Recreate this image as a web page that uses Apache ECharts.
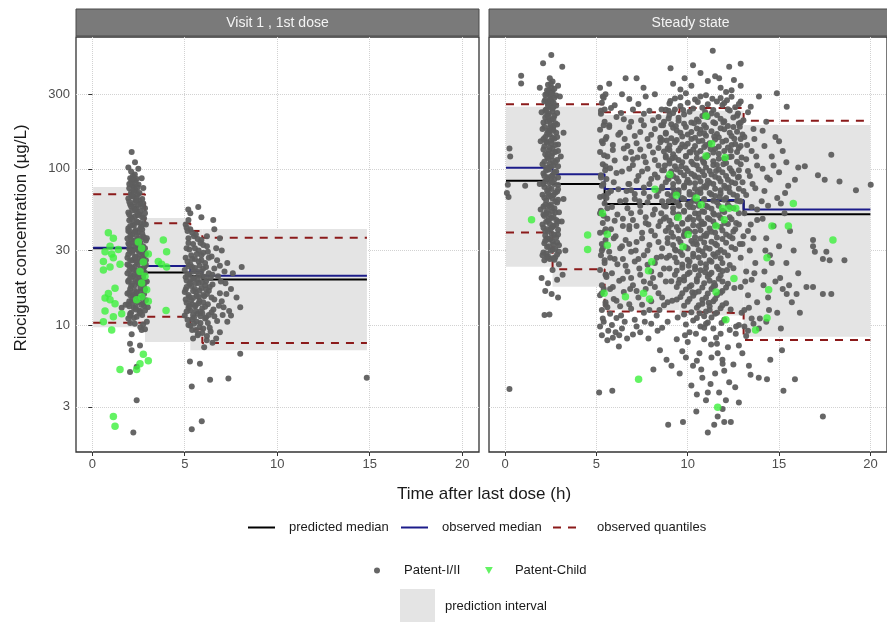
<!DOCTYPE html>
<html>
<head>
<meta charset="utf-8">
<script src="https://cdn.jsdelivr.net/npm/echarts@6/dist/echarts.min.js"></script>
<style>
  html, body { margin: 0; padding: 0; background: #ffffff; }
  #chart { width: 887px; height: 622px; }
</style>
</head>
<body>
<div id="chart"></div>
<script>
// ---------------- data ----------------
const panelTitles = ['Visit 1 , 1st dose', 'Steady state'];
const xTicks = [0, 5, 10, 15, 20];
const yTicks = [3, 10, 30, 100, 300];

// Visit 1, first dose: time bins (h) and binned summaries (µg/L)
const binEdgesV1 = [0.05, 2.85, 5.3, 5.95, 14.85];
const predMedianV1 = [31.0, 21.7, 20.6, 19.6];
const obsMedianV1 = [31.3, 23.9, 22.0, 20.7];
const obsUpperV1 = [68.7, 44.8, 40.0, 36.2];
const obsLowerV1 = [10.35, 11.3, 9.4, 7.67];
const piLowV1 = [9.7, 7.8, 6.9, 6.9];
const piHighV1 = [76.5, 48.4, 41.2, 41.2];

// Steady state: time bins (h) and binned summaries (µg/L)
const binEdgesSS = [0.05, 2.6, 5.45, 9.55, 13.06, 20.0];
const predMedianSS = [83.9, 80.0, 59.5, 62.5, 51.2];
const obsMedianSS = [101.6, 92.2, 74.3, 63.1, 55.0];
const obsUpperSS = [259, 259, 230, 245, 203];
const obsLowerSS = [39.2, 22.8, 12.2, 11.9, 8.02];
const piLowSS = [23.6, 17.6, 12.5, 11.5, 8.41];
const piHighSS = [250, 250, 221, 235, 191];

// Observations [time after last dose (h), concentration (µg/L)]
const adultsV1 = [
  [1.95,11],[2.4,11.3],[2.7,11.6],[2.1,12],[2.55,12.4],[2.25,12.9],[2.8,13.2],[1.95,13.6],[2.45,14],[2.15,14.5],
  [2.7,15],[2.35,15.4],[1.9,15.9],[2.6,16.4],[2.05,17],[2.8,17.5],[2.3,18],[2.5,18.6],[1.95,19.2],[2.7,19.8],
  [2.2,20.4],[2.45,21],[2.85,21.6],[2.0,22.3],[2.6,23],[2.3,23.7],[1.9,24.4],[2.75,25.1],[2.15,25.9],[2.5,26.7],
  [2.35,27.5],[1.95,28.3],[2.65,29.2],[2.2,30],[2.85,31],[2.45,31.8],[2.0,32.8],[2.6,33.8],[2.3,34.8],[1.9,35.8],
  [2.75,36.9],[2.15,38],[2.5,39.2],[2.35,40.4],[1.95,41.6],[2.65,42.8],[2.2,44.1],[2.45,45.4],[2.0,46.8],[2.8,48.2],
  [2.3,49.6],[2.55,51],[1.95,52.6],[2.15,54.2],[2.4,55.8],[2.7,57.5],[2.05,59.2],[2.3,61],[2.55,62.8],[1.95,64.7],
  [2.2,66.6],[2.45,68.6],[2.1,70.7],[2.35,72.8],[2.0,75],[2.25,77.2],[2.5,79.5],[2.1,82],[2.3,84.5],[2.05,87],[2.2,90],
  [2.25,11.1],[2.05,11.8],[2.6,12.2],[2.35,13],[2.75,13.8],[2.0,14.2],[2.55,14.8],[2.2,15.6],[2.4,16.2],[2.85,16.9],
  [2.1,17.8],[2.65,18.3],[1.95,18.9],[2.35,19.5],[2.55,20.1],[2.1,20.8],[2.7,21.4],[2.4,22.1],[2.2,22.8],[2.8,23.4],
  [2.0,24],[2.45,24.6],[2.65,25.5],[2.25,26.3],[1.9,27],[2.8,27.8],[2.55,28.6],[2.05,29.6],[2.4,30.5],[2.7,31.4],
  [2.25,32.3],[1.95,33.3],[2.55,34.3],[2.1,35.3],[2.8,36.3],[2.4,37.4],[2.05,39.6],[2.7,40.9],[2.25,43.4],[2.6,45],
  [2.1,48.8],[2.4,53.4],[2.25,57],[2.6,60],[2.4,65],[2.1,68],[2.3,74],[2.15,79],[2.4,86],
  [2.05,11.5],[2.55,11.9],[2.85,12.4],[2.35,12.6],[2.0,13.2],[2.65,13.5],[2.2,13.9],[2.9,14.4],[2.45,15],[2.05,15.5],
  [2.8,15.8],[2.3,16.6],[2.0,16.2],[2.6,17.3],[2.15,18.5],[2.85,18.8],[2.45,19],[2.05,20],[2.75,20.3],[2.3,21.2],
  [1.9,21.5],[2.55,22],[2.15,23.3],[2.9,24.2],[2.4,25.3],[2.05,26],[2.7,26.8],[2.3,27.2],[2.9,28.5],[2.15,29],
  [2.5,30],[2.0,30.8],[2.75,32],[2.35,33],[2.2,34],[2.9,34.8],[2.5,35.8],[2.05,37],[2.7,38.5],[2.3,39.5],
  [1.95,40],[2.6,41.5],[2.05,43],[2.8,44.5],[2.4,46],[2.15,47.5],[2.7,49],[2.45,50.5],[2.0,51],[2.6,53.5],
  [2.3,55],[2.85,56],[2.1,57.5],[2.5,59],[2.0,61.5],[2.35,63],[2.7,64],[2.15,67],[2.55,70],[2.25,71],
  [2.45,76],[2.0,80],[2.35,81],[2.15,86],[2.3,92],[2.1,96],
  [1.95,102],[2.31,110],[2.13,128],[2.49,100],[2.67,87],[2.76,75.5],[2.76,60],[2.85,52],[2.9,44],[2.95,36],
  [2.9,26],[2.95,19],[3.0,13],[2.95,10.5],[2.85,9.4],[2.6,9.7],[2.3,10.2],[2.05,10.3],[2.13,8.75],[2.67,9.3],
  [2.04,7.6],[2.13,6.9],[2.58,7.4],[2.04,5.0],[2.4,5.4],[2.4,3.3],[2.22,2.05],[1.59,12.9],[2.75,10.1],[1.8,13.5],
  [5.05,44],[5.3,41],[5.6,38],[5.2,36],[5.9,35],[5.45,33],[6.2,32],[5.1,31],[5.75,30],[6.0,29],
  [5.35,28],[6.45,27.5],[5.55,26.5],[5.15,25.5],[6.1,25],[5.8,24],[5.4,23.5],[6.6,23],[5.0,22.5],[5.65,22],
  [6.3,21.5],[5.25,21],[5.95,20.5],[6.8,20.5],[5.5,20],[5.1,19.3],[6.15,19],[5.75,18.6],[6.5,18.2],[5.35,17.8],
  [5.9,17.3],[5.05,16.9],[6.3,16.6],[5.6,16.2],[6.9,16],[5.2,15.6],[6.05,15.3],[5.45,14.9],[6.6,14.6],[5.8,14.3],
  [5.1,13.9],[6.25,13.6],[5.55,13.2],[7.1,13],[5.95,12.8],[5.3,12.4],[6.45,12.1],[5.7,11.8],[5.0,11.5],[6.15,11.2],
  [5.4,10.9],[6.75,10.6],[5.85,10.3],[5.2,10],[6.35,9.6],[5.6,9.3],[5.95,8.9],[6.2,8.5],[5.45,8.2],[6.5,7.7],[6.05,7.2],
  [5.15,40],[5.5,37],[5.85,33.5],[5.25,30.5],[5.65,28.5],[6.3,27],[5.9,26],[5.3,24.5],[6.0,23],[5.45,22],
  [5.15,21],[6.4,20],[5.7,19.6],[5.3,18.8],[6.1,18],[5.55,17],[5.0,16.3],[6.2,15.8],[5.75,15.1],[5.35,14.4],
  [6.0,14],[5.6,13.4],[5.2,12.9],[6.55,12.6],[5.85,12.2],[5.45,11.6],[6.1,11],[5.65,10.5],[5.3,9.9],[6.4,9.1],
  [5.1,42],[5.4,39],[5.7,35.5],[6.0,32.5],[5.2,33.5],[5.55,31],[5.9,28],[6.25,29.5],[5.05,27],[5.4,26.5],
  [5.75,25.5],[6.15,23.5],[5.2,23.8],[5.55,23.2],[5.9,22],[6.5,21],[5.05,20.2],[5.4,19.7],[5.75,20.8],[6.1,20.4],
  [5.25,18.3],[5.6,18.5],[5.95,18.8],[6.35,17.5],[5.1,17.5],[5.45,16.5],[5.8,16.6],[6.15,16.9],[5.25,15.1],[5.65,15.4],
  [6.0,15.6],[6.45,15],[5.05,14.6],[5.4,13.6],[5.75,13.8],[6.1,13.1],[5.25,13.3],[5.6,12.3],[5.95,11.9],[6.3,11.6],
  [5.1,12.2],[5.5,11.2],[5.85,11.4],[6.25,10.3],[5.15,10.8],[5.5,10.2],[5.8,9.7],[5.4,9.3],[6.0,9.5],[5.7,8.6],
  [6.75,26],[6.95,19],[7.15,22],[6.85,13.3],[7.25,15.8],[6.7,31],[6.9,36],[7.05,11.6],
  [5.19,55],[5.73,57],[6.54,47],[5.3,52],[5.9,49],[5.2,47],[6.6,41],[6.2,37],[7.0,30],[7.3,25],
  [6.9,24],[7.6,21.5],[8.08,23.5],[7.2,18.5],[7.5,17],[7.8,15],[7.0,14.2],[7.4,12.3],[8.0,13],[7.3,10.5],
  [6.9,9],[6.7,8.2],[8.0,6.55],[6.6,11.4],[7.5,11.5],[5.73,8.8],[6.19,8.0],
  [5.28,5.85],[5.82,5.65],[5.38,4.05],[6.37,4.47],[7.36,4.55],[5.38,2.15],[5.92,2.42],[14.84,4.6]
];

const childrenV1 = [
  [0.87,39],[1.14,36],[0.96,32],[0.69,29.5],[1.05,28.5],[1.41,30.5],[0.6,25.5],[1.14,27],[1.5,24.5],[0.96,23.5],
  [0.6,22.5],[1.23,17.2],[0.87,15.9],[0.69,14.9],[0.96,14.5],[1.23,13.7],[0.69,12.3],[1.14,11.3],[1.59,11.8],[0.6,10.5],
  [1.05,9.3],[1.5,5.2],[1.14,2.6],[1.23,2.25],
  [2.49,34],[2.67,31],[3.03,28.5],[2.76,25.3],[2.58,22],[2.85,20.5],[2.67,18.6],[2.94,16.8],[2.67,15.2],[3.03,14.2],
  [2.4,14.5],[2.76,6.5],[3.03,5.9],[2.58,5.65],[2.4,5.2],
  [3.84,35],[4.02,29.5],[3.57,25.5],[3.75,24.5],[4.02,23.5],[3.99,12.4]
];

const adultsSS = [
  [0.15,79],[0.1,70],[0.19,66],[0.24,135],[0.28,120],[0.24,3.9],[0.88,395],[0.88,352],[1.1,78],
  [2.08,474],[2.53,535],[3.13,451],
  [2.15,26],[2.6,26.8],[2.35,27.6],[2.85,28.3],[2.1,29.1],[2.5,29.9],[2.75,30.7],[2.3,31.6],[2.95,32.4],[2.15,33.4],
  [2.6,34.3],[2.4,35.3],[2.8,36.4],[2.2,37.4],[2.55,38.5],[2.35,39.7],[2.9,40.8],[2.1,42],[2.65,43.2],[2.45,44.5],
  [2.25,45.8],[2.8,47.1],[2.55,48.5],[2.15,49.9],[2.4,51.3],[2.95,52.8],[2.3,54.3],[2.7,55.9],[2.1,57.5],[2.5,59.2],
  [2.85,60.9],[2.25,62.7],[2.6,64.5],[2.4,66.4],[2.05,68.3],[2.75,70.3],[2.3,72.3],[2.55,74.4],[2.15,76.6],[2.9,78.8],
  [2.45,81.1],[2.2,83.4],[2.7,85.8],[2.35,88.3],[2.6,90.9],[2.1,93.5],[2.8,96.2],[2.4,99],[2.25,102],[2.65,105],
  [2.45,108],[2.15,111],[2.85,114],[2.35,117],[2.55,121],[2.2,124],[2.75,128],[2.4,131],[2.6,135],[2.15,139],
  [2.9,143],[2.3,147],[2.5,151],[2.7,156],[2.2,160],[2.45,165],[2.8,170],[2.35,175],[2.6,180],[2.15,185],
  [2.5,190],[2.75,196],[2.3,201],[2.55,207],[2.2,213],[2.7,219],[2.4,226],[2.6,233],[2.25,240],[2.5,247],
  [2.8,254],[2.35,261],[2.55,269],[2.2,277],[2.7,285],[2.45,293],[2.3,302],[2.6,311],[2.4,320],[2.55,330],
  [2.35,345],[2.6,362],[2.45,380],
  [2.45,26.5],[2.75,27.2],[2.25,28.7],[2.6,30.3],[2.4,32],[2.85,33.8],[2.3,35.8],[2.7,37.9],[2.2,40.2],[2.5,41.3],
  [2.8,43.8],[2.35,46.5],[2.65,49.2],[2.25,52],[2.6,53.6],[2.4,58.3],[2.75,61.9],[2.15,65.3],[2.5,67.4],[2.85,71.5],
  [2.4,75.5],[2.7,80],[2.3,86.8],[2.55,89.6],[2.25,97.5],[2.5,103],[2.75,110],[2.3,119],[2.6,126],[2.45,137],
  [2.25,149],[2.6,158],[2.4,172],[2.65,187],[2.45,204],[2.3,222],[2.65,250],[2.45,272],
  [2.7,26.2],[2.3,27.1],[2.05,28],[2.95,29.5],[2.65,32.8],[2.2,34.7],[2.5,36],[2.9,38],[2.3,41],[2.6,42.5],
  [2.05,44],[2.9,46],[2.4,48],[2.1,51],[2.75,52.5],[2.55,56.5],[2.2,59],[2.9,63.5],[2.65,68],[2.35,70],
  [2.9,74],[2.1,80],[2.55,83],[2.9,88],[2.15,90],[2.7,95],[2.35,100],[2.9,104],[2.05,107],[2.6,113],
  [2.35,125],[2.9,130],[2.1,133],[2.75,142],[2.55,146],[2.1,155],[2.85,160],[2.3,168],[2.65,176],[2.05,180],
  [2.45,184],[2.85,192],[2.1,198],[2.65,210],[2.35,217],[2.85,228],[2.2,236],[2.6,243],[2.35,253],[2.65,265],
  [2.15,270],[2.5,280],[2.8,295],[2.2,298],[2.55,305],[2.3,318],[2.7,325],[2.5,350],
  [2.0,20],[2.35,18.5],[2.6,22.5],[2.85,19.5],[2.2,16.5],[2.55,15.8],[2.9,15],[3.15,21],[2.95,24.5],[2.16,11.6],
  [2.43,11.7],[3.3,30],[3.1,46],[3.2,64],[1.95,55],[1.9,80],[3.05,120],[3.2,170],[1.95,150],[2.0,230],
  [3.0,290],[2.9,340],[1.9,330],
  [5.2,330],[5.5,300],[5.3,265],[5.8,245],[5.25,225],[6.1,215],[5.45,200],[5.7,190],[5.2,178],[6.3,170],
  [5.55,160],[5.3,150],[5.9,142],[6.5,135],[5.2,128],[5.6,120],[6.0,113],[5.35,107],[5.75,101],[6.4,96],
  [5.25,91],[5.55,86],[5.95,82],[5.3,78],[6.2,74],[5.65,70],[5.2,66],[6.6,63],[5.45,60],[5.85,57],
  [5.25,54],[6.15,51],[5.6,48],[5.35,45],[6.45,43],[5.8,41],[5.2,39],[6.05,37],[5.5,35],[5.3,33],
  [6.3,31],[5.7,29.5],[5.25,28],[6.0,26.5],[5.45,25],[6.6,24],[5.2,22.5],[5.85,21.5],[5.55,20.3],[6.25,19.2],
  [5.3,18],[5.75,17],[6.5,16.3],[5.2,15.5],[5.95,14.7],[5.5,14],[6.3,13.2],[5.3,12.5],[5.75,11.8],[6.1,11.1],
  [5.4,10.5],[5.2,9.8],[6.4,9.5],[5.65,9.2],[5.3,8.6],[5.9,8.3],
  [5.4,285],[6.0,255],[5.25,235],[6.5,208],[5.7,185],[6.2,165],[5.35,146],[5.9,132],[6.6,117],[5.5,104],
  [6.1,94],[5.25,88],[6.75,80],[5.8,72],[5.4,67],[6.3,62],[5.6,56],[5.2,52],[6.0,46.5],[6.8,43],
  [5.45,39.5],[5.95,36],[6.4,32],[5.3,30],[5.75,27],[6.15,24.5],[5.5,21],[6.45,19.8],[5.9,17.5],[5.3,16],
  [6.1,14.3],[5.6,13],[6.35,11.5],[5.85,10],[6.05,9],
  [5.35,290],[5.45,240],[5.4,190],[5.5,155],[5.42,122],[5.48,98],[5.38,80],[5.55,65],[5.4,50],[5.5,41],
  [5.35,31],[5.45,26],[5.52,21],[5.4,17],[5.5,13.5],[5.35,11],
  [6.8,280],[7.3,260],[7.9,235],[8.4,215],[6.9,200],[7.6,190],[8.2,180],[8.8,170],[7.1,162],[7.8,155],
  [8.5,148],[6.7,140],[7.4,133],[8.1,127],[8.8,121],[7.0,115],[7.7,110],[8.4,105],[6.8,100],[7.5,96],
  [8.2,92],[8.9,88],[7.2,84],[7.9,80],[8.6,77],[6.9,73],[7.6,70],[8.3,67],[7.1,64],[7.8,61],
  [8.7,58],[6.7,56],[7.4,53],[8.1,51],[8.8,49],[7.0,47],[7.7,45],[8.4,43],[6.8,41],[7.5,39],
  [8.2,37.5],[8.9,36],[7.2,34],[7.9,32.5],[8.6,31],[6.9,29.5],[7.6,28],[8.3,27],[7.1,25.5],[7.8,24.3],
  [8.7,23],[6.7,22],[7.4,21],[8.1,20],[8.8,19],[7.0,18],[7.7,17],[8.4,16],[7.3,15],[8.0,14.2],
  [8.7,13.4],[6.9,12.7],[7.6,12],[8.3,11.5],[7.1,10.8],[8.0,10.2],[8.6,9.6],[7.4,9],[6.8,13.6],[7.2,9.8],
  [7.0,240],[7.6,225],[8.1,205],[6.8,185],[7.4,172],[8.0,165],[8.5,158],[7.2,146],[7.9,140],[6.9,128],
  [8.4,136],[7.6,120],[8.2,114],[7.0,106],[7.8,100],[8.6,98],[7.3,90],[8.0,86],[6.8,80],[7.6,76],
  [8.4,72],[7.1,69],[7.9,66],[8.6,62],[7.4,58],[8.2,55],[6.9,52],[7.7,49],[8.5,46],[7.2,43],
  [8.0,40],[7.5,36],[8.4,34],[6.8,33],[7.8,30],[7.3,26.5],[8.2,25],[6.9,20],[7.6,19],[8.5,21],
  [7.2,16.5],[8.2,17.5],[7.9,12.5],[8.6,15],[7.5,13.5],
  [6.35,228],[7.45,205],[8.55,190],[6.55,155],[7.25,118],[8.35,88],[6.65,72],[7.35,62],[8.55,52],[6.45,48],
  [7.85,44],[6.6,35],[7.15,30],[8.55,27.5],[6.45,26.5],[7.35,23],[8.0,22],[6.85,17],[7.95,18.5],[8.45,12.5],
  [6.55,10.5],[7.65,10.5],[8.35,9.2],[7.0,8.7],[6.25,8.6],[8.9,10.5],[8.9,14],[8.85,27],[8.95,62],[8.75,105],
  [8.9,135],[8.65,190],[8.95,235],[7.7,290],[6.4,300],[5.7,350],[6.6,380],[8.2,300],[7.2,380],
  [9.9,305],[11.0,296],[12.1,310],[10.4,278],[11.6,270],[9.3,282],[9.6,252],[10.8,246],[11.9,256],[12.6,248],
  [10.1,232],[11.3,226],[12.3,236],[9.2,228],[9.5,212],[10.5,207],[11.1,215],[11.8,209],[12.5,213],
  [9.8,194],[10.9,190],[11.5,196],[12.2,188],[9.1,193],
  [9.4,176],[10.2,172],[10.7,178],[11.3,174],[12.0,179],[12.7,173],
  [9.7,161],[10.4,158],[11.0,163],[11.7,159],[12.4,162],[9.1,157],
  [9.3,148],[10.0,145],[10.6,150],[11.2,146],[11.9,149],[12.6,144],
  [9.6,136],[10.3,133],[10.9,138],[11.5,134],[12.2,137],[9.0,132],[12.8,136],
  [9.2,124],[9.9,121],[10.5,126],[11.1,122],[11.7,125],[12.4,120],
  [9.5,114],[10.2,111],[10.8,115],[11.4,112],[12.0,116],[12.7,111],[9.0,113],
  [9.3,104],[9.9,101],[10.5,105],[11.0,102],[11.6,106],[12.3,101],
  [9.6,95],[10.2,93],[10.8,96],[11.3,92],[11.9,95],[12.5,93],[9.1,96],
  [9.4,87],[10.0,85],[10.6,88],[11.1,84],[11.7,87],[12.2,85],
  [9.2,80],[9.8,78],[10.4,81],[10.9,77],[11.4,80],[12.0,78],[12.6,81],
  [9.5,73],[10.1,71],[10.7,74],[11.2,70],[11.8,73],[12.3,71],
  [9.1,67],[9.7,65],[10.3,68],[10.9,64],[11.5,67],[12.1,65],[12.7,67],
  [9.4,61],[10.0,59],[10.5,62],[11.0,58],[11.6,61],[12.2,59],
  [9.2,56],[9.8,54],[10.3,56.5],[10.8,53.5],[11.3,55.5],[11.9,54],[12.5,56],
  [9.5,51],[10.1,49],[10.6,51.5],[11.1,48.5],[11.7,50.5],[12.3,49],
  [9.0,46.5],[9.7,45],[10.3,47],[10.9,44.5],[11.4,46],[12.0,45],
  [9.4,42.5],[10.0,41],[10.6,43],[11.2,41.5],[11.8,42.5],[12.6,41],
  [9.1,39],[9.8,38],[10.4,39.5],[10.9,37.5],[11.5,39],[12.1,38],
  [9.5,35.5],[10.2,34.5],[10.7,35.8],[11.3,34.2],[11.9,35.5],
  [9.2,32.5],[9.9,31.5],[10.5,32.8],[11.0,31.2],[11.6,32.4],[12.4,31.5],
  [9.6,29.5],[10.3,28.6],[10.8,29.6],[11.4,28.4],[12.0,29.3],
  [9.3,27],[10.0,26.2],[10.6,27.1],[11.2,26],[11.8,26.8],
  [9.7,24.4],[10.4,23.7],[11.0,24.5],[11.6,23.6],[12.3,24.2],
  [9.4,22.3],[10.1,21.7],[10.7,22.4],[11.3,21.6],[11.9,22.2],
  [9.8,20.3],[10.5,19.7],[11.1,20.4],[11.7,19.8],
  [9.5,18.6],[10.2,18],[10.9,18.5],[11.5,17.9],[12.2,18.4],
  [9.9,16.9],[10.6,16.4],[11.3,17],[11.9,16.5],
  [10.3,15.4],[11.0,15],[11.6,15.5],[9.6,15.1],
  [10.0,14.1],[10.8,13.7],[11.4,14.2],[12.1,13.8],
  [10.5,12.9],[11.2,12.5],[11.8,12.8],[9.8,11.7],[10.9,11.4],[11.5,11.8],
  [10.3,10.7],[11.1,10.4],[12.0,10.8],[10.7,9.8],[11.4,9.5],[10.1,9],[11.8,8.8],
  [9.6,287],[10.7,290],[11.8,284],[12.4,289],
  [9.0,262],[10.0,265],[11.1,259],[12.0,264],[12.8,260],
  [9.3,240],[10.3,243],[11.4,238],[12.2,241],[8.8,239],
  [9.0,220],[9.8,223],[10.8,218],[11.6,221],[12.7,219],
  [8.7,200],[9.5,203],[10.2,198],[10.6,201],[11.4,199],[12.0,202],[12.9,198],
  [9.2,183],[9.9,185],[10.5,181],[11.0,184],[11.8,182],[12.5,185],
  [8.8,168],[9.6,170],[10.0,166],[10.9,169],[11.6,167],[12.3,170],[13.0,166],
  [9.4,153],[10.2,155],[10.8,151],[11.5,154],[12.1,152],[12.9,155],[8.6,153],
  [9.0,141],[9.7,143],[10.4,140],[11.0,142],[11.7,139],[12.4,142],
  [8.7,129],[9.5,131],[10.1,128],[10.7,130],[11.4,127],[12.0,130],[12.7,128],
  [9.3,118],[9.9,120],[10.5,117],[11.0,119],[11.7,116],[12.3,119],[8.8,118],
  [9.0,108],[9.7,110],[10.3,107],[10.9,109],[11.4,106],[12.1,109],[12.9,107],
  [8.7,98],[9.4,99],[10.0,97],[10.6,99],[11.2,97],[11.7,99],[12.4,97],
  [9.2,90],[9.8,91],[10.4,89],[10.9,91],[11.5,89],[12.1,90],[12.8,89],
  [8.8,82],[9.5,83],[10.1,81.5],[10.7,83],[11.2,81.5],[11.8,83],[12.4,82],
  [9.2,75],[9.8,76],[10.4,74.5],[11.0,76],[11.5,74.5],[12.1,75.5],[12.8,74.5],[8.6,75],
  [8.9,69],[9.5,70],[10.1,68.5],[10.7,70],[11.3,68.5],[11.8,69.5],[12.5,68.5],
  [9.2,63],[9.8,64],[10.3,62.5],[10.9,63.5],[11.4,62.5],[12.0,63.5],[12.7,62.5],
  [8.8,57.5],[9.5,58.3],[10.1,57],[10.6,58],[11.1,57],[11.7,58],[12.3,57],
  [9.2,52.5],[9.8,53.2],[10.4,52],[10.9,53],[11.4,52],[12.0,53],[12.8,52],
  [8.7,48],[9.4,48.6],[10.0,47.6],[10.6,48.5],[11.2,47.5],[11.8,48.4],[12.4,47.6],
  [9.1,44],[9.7,44.5],[10.3,43.6],[10.8,44.4],[11.5,43.6],[12.2,44.3],
  [8.8,40],[9.5,40.5],[10.1,39.7],[10.7,40.4],[11.3,39.6],[11.9,40.3],[12.5,39.7],
  [9.2,36.8],[9.8,37.2],[10.4,36.5],[11.0,37.1],[11.6,36.4],[12.3,37],
  [8.9,33.5],[9.6,33.9],[10.3,33.2],[10.9,33.8],[11.5,33.2],[12.1,33.7],
  [9.3,30.5],[10.0,30.9],[10.6,30.2],[11.2,30.8],[11.8,30.2],[12.6,30.7],
  [9.0,27.8],[9.7,28.1],[10.3,27.5],[10.9,28],[11.5,27.5],[12.2,27.9],
  [9.4,25.2],[10.1,25.5],[10.7,25],[11.3,25.4],[11.9,25],
  [9.0,23],[9.7,23.3],[10.4,22.8],[11.0,23.2],[11.7,22.8],[12.5,23.1],
  [9.3,21],[10.0,21.2],[10.6,20.8],[11.2,21.1],[11.8,20.8],
  [9.1,19.1],[9.8,19.3],[10.5,19],[11.2,19.2],[11.9,19],
  [9.4,17.5],[10.1,17.6],[10.8,17.4],[11.4,17.6],[12.1,17.4],
  [9.7,16],[10.4,16.1],[11.1,15.9],[11.8,16.1],
  [9.4,14.6],[10.1,14.7],[10.8,14.5],[11.5,14.7],
  [9.8,13.3],[10.6,13.4],[11.2,13.2],[11.9,13.4],
  [10.2,12.1],[11.0,12.2],[11.6,12],[10.5,11.1],[11.3,11.2],[9.9,10.1],[11.0,10.2],
  [9.05,272],[10.55,268],[11.35,281],[12.15,275],[9.75,238],[10.95,231],[12.75,226],[8.95,210],[10.35,196],[11.95,198],
  [12.85,186],[9.35,188],[10.65,168],[11.45,161],[12.55,156],[8.85,152],[9.85,139],[11.25,134],[12.35,131],[10.15,127],
  [9.15,117],[10.85,111],[11.95,107],[12.95,118],[9.65,104],[11.55,97],[10.35,91],[12.75,88],[8.95,86],[9.95,82],
  [11.05,79],[12.25,76],[10.55,71],[9.25,70],[11.75,66],[12.85,62],[10.15,60],[9.55,58],[11.45,51],[10.75,46],
  [12.65,45],[8.95,42],[9.85,40],[11.05,38.5],[12.45,36],[10.45,34],[9.35,30],[11.65,29],[12.85,33],[10.05,24],
  [10.95,21.8],[12.15,22.5],[9.55,19.5],[11.45,18.6],[12.55,17.3],[10.25,16.2],[9.15,14.3],[11.15,13.9],[12.35,12.6],[10.65,11.9],
  [9.45,11.2],[11.85,10.3],[12.65,9.8],[10.45,8.8],[11.55,8.3],[9.85,8.6],[12.95,12],[13.35,12.9],[13.15,19],[13.65,21.5],
  [13.05,37],[13.45,44],[13.8,55],[13.05,72],[13.55,80],[13.3,97],[13.75,120],[13.25,142],[13.65,155],[13.05,205],
  [13.45,250],[13.9,290],[14.1,175],[14.05,62],[14.25,30],[14.6,25],[14.15,18],[14.45,12.5],[13.95,11],[13.6,10.2],
  [13.3,9.2],[14.7,105],[14.35,88],[15.0,150],[15.4,110],[15.1,60],[15.8,30],[15.55,18],
  [10.0,7.8],[10.9,8.1],[11.3,6.2],[12.2,7.2],[10.5,5.9],[11.9,6.0],[9.7,6.8],[12.5,5.6],[10.8,4.6],[11.5,4.9],
  [12.8,7.4],[10.2,4.1],[12.6,4.0],[11.0,3.3],[9.4,8.1],[12.3,9.3],[10.9,9.6],[13.1,9.8],[11.6,7.6],[9.9,6.2],
  [12.0,5.1],[11.25,4.2],[10.5,3.6],[12.8,3.2],
  [10.2,340],[11.1,365],[11.8,330],[9.6,322],[12.4,318],[10.7,410],[11.5,392],[9.2,350],[12.9,340],
  [11.37,570],[9.06,440],[10.29,460],[12.9,470],[12.27,450],[9.83,380],[11.72,380],[12.53,370],[7.58,330],[8.57,240],
  [14.88,305],[15.42,250],
  [12.9,270],[13.3,230],[12.8,195],[13.6,180],[13.1,160],[12.9,140],[13.5,130],[13.2,115],[13.8,105],[12.8,98],
  [13.4,90],[13.0,82],[13.7,75],[13.2,68],[12.9,62],[13.5,57],[13.1,52],[13.8,47],[12.8,44],[13.3,40],
  [13.6,36],[13.0,33],[13.4,30],[12.9,27],[13.7,25],[13.2,22],[13.5,19.5],[12.9,17.5],[13.3,15.5],[13.8,14],
  [13.1,12.5],[13.5,11],[12.8,10],[13.9,9.5],[13.2,8.5],
  [14.3,200],[14.8,160],[14.2,140],[15.2,130],[14.6,120],[14.1,100],[15.0,95],[14.5,85],[15.5,78],[14.2,72],
  [14.9,65],[14.4,58],[15.3,52],[14.1,48],[14.7,43],[15.6,40],[14.3,36],[15.0,32],[14.5,28],[15.4,25],
  [14.2,22],[14.8,19],[15.2,17],[14.4,15],[15.7,14],[14.9,12],[14.3,10.5],[15.1,9.5],
  [20.02,79],[19.21,73],[18.31,83],[17.86,123],[17.5,85],[17.13,91],[16.41,104],[16.05,102],[15.87,85],[15.33,70],
  [16.86,35],[16.86,32],[16.96,29.5],[17.59,29.5],[17.4,26.5],[17.77,26],[18.58,26],[16.05,21.5],[16.5,17.5],[16.86,17.5],
  [17.4,15.8],[17.86,15.8],[15.96,15.8],[16.14,12],[15.42,15.8],[15.06,20],
  [8.93,2.3],[9.74,2.4],[11.1,2.05],[11.45,2.3],[12.0,2.4],[12.36,2.4],[10.47,2.8],[11.64,2.6],
  [8.84,6.0],[9.11,5.5],[9.56,4.9],[10.29,5.5],[10.74,5.2],[8.12,5.2],[12.27,4.3],[11.72,3.7],[13.44,4.8],[14.34,4.5],
  [15.87,4.5],[15.24,3.8],[5.87,3.8],[5.15,3.7],[17.4,2.6],[8.48,6.9],[7.85,8.2],[6.23,7.3],[5.6,8.0],[6.68,8.2],
  [11.28,7.5],[10.64,6.6],[11.64,6.6],[12.99,6.6],[13.35,5.5],[13.89,4.6],[15.16,6.9],[14.52,6.0],[12.63,8.8],
  [11.91,5.65],[11.1,3.7],[12.09,3.3],[11.91,2.9]
];

const childrenSS = [
  [1.45,47.3],[4.52,37.7],[4.52,30.5],[5.33,52],[5.6,38.2],[5.6,32.4],[5.42,16],[6.59,15.2],[7.58,16],[7.91,14.7],
  [7.85,22.3],[8.03,25.4],[8.21,73.9],[9.02,92],[9.38,67.7],[9.48,48.9],[9.74,31.7],[10.02,38],[10.47,65],[10.74,59],
  [11.0,218],[11.31,145],[11.0,121],[12.05,118],[11.91,56],[12.27,56],[12.63,56],[12.0,47.3],[11.55,43],[12.53,19.9],
  [11.55,16.3],[12.09,10.8],[13.71,9.3],[14.34,11.1],[14.43,16.8],[14.34,27],[14.61,43],[15.51,43],[15.78,60],[17.95,35],
  [7.31,4.5],[11.64,2.98]
];

// ---------------- chart ----------------
const FONT = '"Liberation Sans", Arial, Helvetica, sans-serif';
const panels = [
  { edges: binEdgesV1, pred: predMedianV1, obs: obsMedianV1, hi: obsUpperV1, lo: obsLowerV1,
    piLo: piLowV1, piHi: piHighV1, adults: adultsV1, children: childrenV1 },
  { edges: binEdgesSS, pred: predMedianSS, obs: obsMedianSS, hi: obsUpperSS, lo: obsLowerSS,
    piLo: piLowSS, piHi: piHighSS, adults: adultsSS, children: childrenSS }
];

const gridLeft = [76, 489];
const gridTop = 37, gridW = 403, gridH = 415;
const QUANT_DASH = [8, 7];

// step-line points: one point per bin start plus the final edge
function stepPoints(edges, vals) {
  const pts = vals.map((v, i) => [edges[i], v]);
  pts.push([edges[edges.length - 1], vals[vals.length - 1]]);
  return pts;
}
function bandRows(edges, lo, hi) {
  return lo.map((l, i) => [edges[i], edges[i + 1], l, hi[i]]);
}

const grids = [], xAxes = [], yAxes = [], series = [];
panels.forEach((p, k) => {
  grids.push({ left: gridLeft[k], top: gridTop, width: gridW, height: gridH, show: true,
    backgroundColor: '#ffffff', borderColor: '#333333', borderWidth: 1.3, containLabel: false });
  xAxes.push({ type: 'value', gridIndex: k, min: -0.88, max: 20.91,
    axisLine: { show: false },
    axisTick: { show: true, length: 4, lineStyle: { color: '#333333', width: 1 }, customValues: xTicks },
    axisLabel: { show: true, customValues: xTicks, fontSize: 13, color: '#4d4d4d', margin: 6, fontFamily: FONT },
    splitLine: { show: true, lineStyle: { color: '#d2d2d2', type: 'dotted', width: 1 } } });
  yAxes.push({ type: 'log', logBase: 10, gridIndex: k, min: 1.54, max: 698,
    axisLine: { show: false },
    axisTick: { show: k === 0, length: 4, lineStyle: { color: '#333333', width: 1 }, customValues: yTicks },
    axisLabel: { show: k === 0, customValues: yTicks, fontSize: 13, color: '#4d4d4d', margin: 6, fontFamily: FONT },
    splitLine: { show: true, lineStyle: { color: '#d2d2d2', type: 'dotted', width: 1 } } });

  series.push({
    name: 'prediction interval', type: 'custom', xAxisIndex: k, yAxisIndex: k,
    itemStyle: { color: '#e4e4e4' },
    encode: { x: [0, 1], y: [2, 3] },
    data: bandRows(p.edges, p.piLo, p.piHi),
    renderItem: function (params, api) {
      const a = api.coord([api.value(0), api.value(3)]);
      const b = api.coord([api.value(1), api.value(2)]);
      return { type: 'rect', shape: { x: a[0], y: a[1], width: b[0] - a[0], height: b[1] - a[1] },
        style: { fill: '#e4e4e4' } };
    },
    z: 1, silent: true
  });
  const lineBase = { type: 'line', xAxisIndex: k, yAxisIndex: k, step: 'end', symbol: 'none',
    silent: true, z: 2, animation: false };
  series.push(Object.assign({}, lineBase, { name: 'observed quantiles', data: stepPoints(p.edges, p.hi),
    lineStyle: { color: '#8b1a1a', width: 2, type: QUANT_DASH }, itemStyle: { color: '#8b1a1a' } }));
  series.push(Object.assign({}, lineBase, { name: 'observed quantiles', data: stepPoints(p.edges, p.lo),
    lineStyle: { color: '#8b1a1a', width: 2, type: QUANT_DASH }, itemStyle: { color: '#8b1a1a' } }));
  series.push(Object.assign({}, lineBase, { name: 'predicted median', data: stepPoints(p.edges, p.pred),
    lineStyle: { color: '#000000', width: 2 }, itemStyle: { color: '#000000' } }));
  series.push(Object.assign({}, lineBase, { name: 'observed median', data: stepPoints(p.edges, p.obs),
    lineStyle: { color: '#1c1c8a', width: 2 }, itemStyle: { color: '#1c1c8a' } }));
  series.push({ name: 'Patent-I/II', type: 'scatter', xAxisIndex: k, yAxisIndex: k, data: p.adults,
    symbol: 'circle', symbolSize: 6, itemStyle: { color: '#5e5e5e', opacity: 0.95 }, z: 3, silent: true });
  series.push({ name: 'Patent-Child', type: 'scatter', xAxisIndex: k, yAxisIndex: k, data: p.children,
    symbol: 'circle', symbolSize: 7.5, itemStyle: { color: '#3cf03c' }, z: 4, silent: true });
});

function legendItem(name, left, top, w, h, gap, icon, extra) {
  return Object.assign({ left: left, top: top, padding: 0, itemWidth: w, itemHeight: h, selectedMode: false,
    data: [icon ? { name: name, icon: icon } : { name: name }],
    textStyle: { fontSize: 13, color: '#1a1a1a', fontFamily: FONT, padding: [0, 0, 0, gap] } }, extra || {});
}

const option = {
  animation: false,
  textStyle: { fontFamily: FONT },
  grid: grids, xAxis: xAxes, yAxis: yAxes, series: series,
  legend: [
    // line keys show only the stroke, without a centre marker
    legendItem('predicted median', 247, 521, 27, 14, 9, null, { itemStyle: { opacity: 0 }, lineStyle: { width: 2 } }),
    legendItem('observed median', 400, 521, 27, 14, 9, null, { itemStyle: { opacity: 0 }, lineStyle: { width: 2 } }),
    legendItem('observed quantiles', 552, 521, 27, 14, 12, null, { itemStyle: { opacity: 0 }, lineStyle: { width: 2, type: QUANT_DASH } }),
    legendItem('Patent-I/II', 374, 564, 6, 6, 19, 'circle'),
    legendItem('Patent-Child', 485, 564, 8, 7, 17, 'path://M0,0L10,0L5,9Z'),
    legendItem('prediction interval', 400, 589, 35, 34, 5, 'rect')
  ],
  graphic: [
    { type: 'rect', shape: { x: 76, y: 9, width: 403, height: 27 }, style: { fill: '#7a7a7a', stroke: '#4a4a4a', lineWidth: 1 } },
    { type: 'rect', shape: { x: 489, y: 9, width: 403, height: 27 }, style: { fill: '#7a7a7a', stroke: '#4a4a4a', lineWidth: 1 } },
    { type: 'text', x: 277.5, y: 23, style: { text: panelTitles[0], fill: '#f4f4f4', font: '14px ' + FONT, align: 'center', verticalAlign: 'middle' } },
    { type: 'text', x: 690.5, y: 23, style: { text: panelTitles[1], fill: '#f4f4f4', font: '14px ' + FONT, align: 'center', verticalAlign: 'middle' } },
    { type: 'text', x: 484, y: 494, style: { text: 'Time after last dose (h)', fill: '#1a1a1a', font: '17px ' + FONT, align: 'center', verticalAlign: 'middle' } },
    { type: 'text', x: 21, y: 238, rotation: Math.PI / 2, style: { text: 'Riociguat concentration (µg/L)', fill: '#1a1a1a', font: '17px ' + FONT, align: 'center', verticalAlign: 'middle' } }
  ]
};

const chart = echarts.init(document.getElementById('chart'), null, { renderer: 'canvas' });
chart.setOption(option);
</script>
</body>
</html>
